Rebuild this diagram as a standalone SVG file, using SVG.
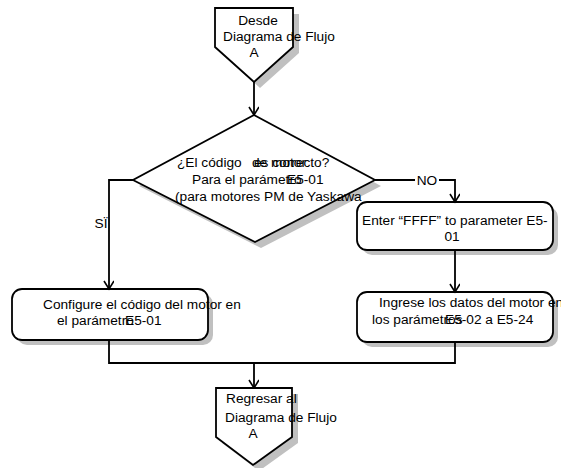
<svg xmlns="http://www.w3.org/2000/svg" width="561" height="468" viewBox="0 0 561 468">
<defs>
<marker id="arr" markerWidth="12" markerHeight="12" refX="9" refY="5" orient="auto" markerUnits="userSpaceOnUse">
<path d="M1,0 L9,5 L1,10" fill="none" stroke="#000" stroke-width="1.6"/>
</marker>
</defs>
<style>
.sh{fill:#c0c0c0;stroke:none}
.nd{fill:#fff;stroke:#000;stroke-width:1.8}
.ln{fill:none;stroke:#000;stroke-width:1.8}
text{font-family:"Liberation Sans",Arial,sans-serif;font-size:13.7px;fill:#000}
</style>
<rect width="561" height="468" fill="#fff"/>
<g id="start">
<polygon class="sh" points="221,14 299,14 299,53 260,88 221,53"/>
<polygon class="nd" points="215,8 293,8 293,47 254,82 215,47"/>
<text x="258" y="25" text-anchor="middle">Desde</text>
<text x="223" y="41">Diagrama de Flujo</text>
<text x="254" y="57" text-anchor="middle">A</text>
</g>
<g id="decision">
<polygon class="sh" points="260,121 381,186 261,248 139,186"/>
<polygon class="nd" points="254,115 375,180 255,242 133,180"/>
<text x="177" y="167">¿El código </text>
<text x="252" y="167">de motor</text>
<text x="254" y="167">es correcto?</text>
<text x="192" y="184">Para el parámetro</text>
<text x="287" y="184">E5-01</text>
<text x="175" y="201">(para motores PM de Yaskawa</text>
</g>
<g id="enterFFFF">
<rect class="sh" x="362" y="207" width="196" height="48" rx="10"/>
<rect class="nd" x="357" y="202" width="196" height="48" rx="10"/>
<text x="362" y="225">Enter “FFFF” to parameter E5-</text>
<text x="452" y="241" text-anchor="middle">01</text>
</g>
<g id="configure">
<rect class="sh" x="17" y="294" width="196" height="51" rx="10"/>
<rect class="nd" x="12" y="289" width="196" height="51" rx="10"/>
<text x="43" y="309">Configure el código del motor en</text>
<text x="57" y="325">el parámetro</text>
<text x="125" y="325">E5-01</text>
</g>
<g id="ingrese">
<rect class="sh" x="362" y="297" width="196" height="50" rx="10"/>
<rect class="nd" x="357" y="292" width="196" height="50" rx="10"/>
<text x="379" y="307">Ingrese los datos del motor en</text>
<text x="372" y="324">los parámetros</text>
<text x="445" y="324">E5-02 a  E5-24</text>
</g>
<g id="connectors">
<path class="ln" d="M254,82 L254,115" marker-end="url(#arr)"/>
<path class="ln" d="M133,180 L109,180 L109,289" marker-end="url(#arr)"/>
<path class="ln" d="M375,180 L455,180 L455,202" marker-end="url(#arr)"/>
<path class="ln" d="M455,250 L455,292" marker-end="url(#arr)"/>
<path class="ln" d="M109,340 L109,363 L455,363 L455,342"/>
<path class="ln" d="M254,363 L254,388" marker-end="url(#arr)"/>
<rect x="93" y="213" width="15" height="20" fill="#fff"/>
<text x="101" y="228" text-anchor="middle">SÏ</text>
<rect x="415" y="172" width="24" height="16" fill="#fff"/>
<text x="427" y="185" text-anchor="middle">NO</text>
</g>
<g id="end">
<polygon class="sh" points="222,394 298,394 298,443 259,471 222,443"/>
<polygon class="nd" points="216,388 292,388 292,437 253,465 216,437"/>
<text x="226" y="403">Regresar al</text>
<text x="225" y="422">Diagrama de Flujo</text>
<text x="253" y="438" text-anchor="middle">A</text>
</g>
</svg>
